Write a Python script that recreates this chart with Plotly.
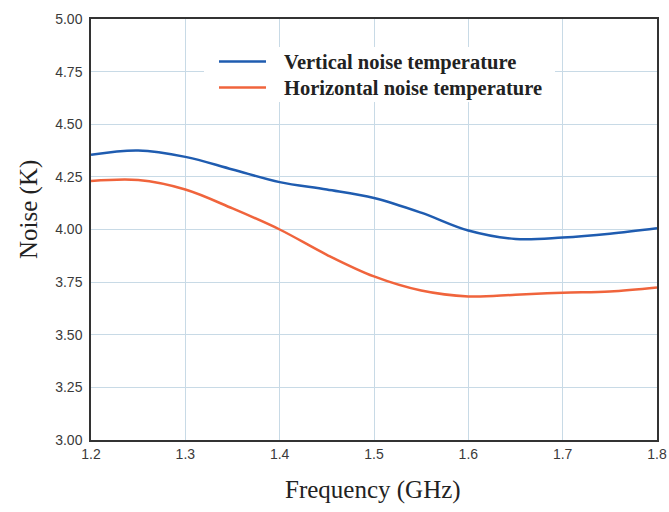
import plotly.graph_objects as go

freq = [1.2, 1.25, 1.3, 1.35, 1.4, 1.45, 1.5, 1.55, 1.6, 1.65, 1.7, 1.75, 1.8]
vertical = [4.355, 4.375, 4.345, 4.285, 4.225, 4.19, 4.15, 4.08, 3.995, 3.955, 3.962, 3.98, 4.006]
horizontal = [4.23, 4.235, 4.19, 4.10, 4.0, 3.88, 3.777, 3.71, 3.682, 3.69, 3.70, 3.706, 3.725]
series_names = ["Vertical noise temperature", "Horizontal noise temperature"]
series_colors = ["#1f5cb0", "#f0643c"]

x_ticks = [1.2, 1.3, 1.4, 1.5, 1.6, 1.7, 1.8]
y_ticks = [3.00, 3.25, 3.50, 3.75, 4.00, 4.25, 4.50, 4.75, 5.00]

W, H = 669, 512
L, R, T, B = 91, 12, 19, 72
pw, ph = W - L - R, H - T - B

def px(xp):
    return (xp - L) / pw

def py(yp):
    return (H - B - yp) / ph

fig = go.Figure()
for name, vals, col in zip(series_names, [vertical, horizontal], series_colors):
    fig.add_trace(go.Scatter(x=freq, y=vals, mode="lines", name=name, showlegend=False,
                             line=dict(color=col, width=2.5, shape="spline", smoothing=1.0)))

axis_common = dict(showline=True, linecolor="#333333", linewidth=1.5, mirror=True,
                   showgrid=True, gridcolor="#c8dae6", gridwidth=1, zeroline=False,
                   ticks="", automargin=False,
                   tickfont=dict(family="Liberation Sans, Arial", size=14, color="#3a3a3a"))

fig.update_xaxes(range=[1.2, 1.8], tickvals=x_ticks, tickformat=".1f", **axis_common)
fig.update_yaxes(range=[3.0, 5.0], tickvals=y_ticks, tickformat=".2f", ticklabelstandoff=4, **axis_common)

serif = "Liberation Serif, Times New Roman"
shapes = [
    dict(type="rect", xref="paper", yref="paper", x0=px(204), x1=px(555), y0=py(102), y1=py(47),
         fillcolor="white", line=dict(width=0), layer="above"),
]
annotations = [
    dict(text="Frequency (GHz)", xref="paper", yref="paper", x=px(373), y=py(490),
         showarrow=False, xanchor="center", yanchor="middle",
         font=dict(family=serif, size=25, color="#222222")),
    dict(text="Noise (K)", xref="paper", yref="paper", x=px(29), y=py(210), textangle=-90,
         showarrow=False, xanchor="center", yanchor="middle",
         font=dict(family=serif, size=25, color="#222222")),
]
legend_rows = [61.5, 87.5]
for name, col, yrow in zip(series_names, series_colors, legend_rows):
    shapes.append(dict(type="line", xref="paper", yref="paper", x0=px(219), x1=px(266),
                       y0=py(yrow), y1=py(yrow), line=dict(color=col, width=2.5), layer="above"))
    annotations.append(dict(text="<b>" + name + "</b>", xref="paper", yref="paper",
                            x=px(282), y=py(yrow + 0.5), showarrow=False,
                            xanchor="left", yanchor="middle",
                            font=dict(family=serif, size=20.5, color="#222222")))

fig.update_layout(
    width=W, height=H,
    margin=dict(l=L, r=R, t=T, b=B),
    paper_bgcolor="white", plot_bgcolor="white",
    showlegend=False,
    shapes=shapes, annotations=annotations,
)

fig.write_html("out.html")
